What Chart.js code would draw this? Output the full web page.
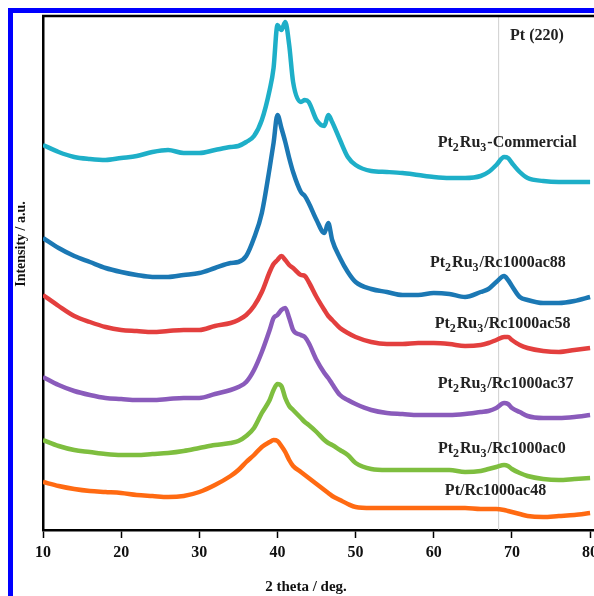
<!DOCTYPE html>
<html>
<head>
<meta charset="utf-8">
<script src="https://cdn.jsdelivr.net/npm/chart.js@4.4.0/dist/chart.umd.min.js"></script>
<style>
  html, body { margin: 0; padding: 0; background: #fff; overflow: hidden; }
  #wrap { width: 620px; height: 596px; }
</style>
</head>
<body>
<div id="wrap"><canvas id="chart" width="620" height="596"></canvas></div>
<script>
const twoTheta = [10,12,14,16,18,20,22,24,26,28,30,32,34,35,36,37,38,39,39.5,40,40.5,41,41.5,42,
  43,43.5,44,45,46,46.5,47,48,49,50,52,54,56,58,60,62,64,66,67,68,69,69.5,70,71,72,74,76,78,80];

// Intensity (a.u., stacked with offsets as in the figure)
const commercial = [385,378,373,371,370,372,374,378,380,377,377,380,383, 384,388,394,410,440,
  462,505,500,508,485,448, 428,430,428,410,404,415,408,390,373,365,
  359,358,357,355,353,352,352,354, 358,365,373,372,367,358,352, 349,348,348,348];
const ac88 = [292,282,274,268,262,258,255,253,253,255,257,262,267, 268,274,292,317,362,
  387,415,402,388,372,358, 338,334,327,310,297,307,290,272,258,248,
  241,238,235,235,237,236,233,238, 241,248,254,250,244,233,230, 227,227,229,233];
const ac58 = [235,224,214,208,203,200,199,198,199,200,200,204,207, 210,215,224,238,258,
  266,270,274,270,265,262, 255,254,248,233,220,214,210,202,197,193,
  188,186,186,187,187,186,184,185, 187,190,193,193,190,185,182, 179,178,180,182];
const ac37 = [153,145,139,135,132,131,130,130,131,132,132,136,140, 143,148,160,178,200,
  212,215,220,222,212,200, 195,193,187,170,157,152,146,135,130,126,
  120,117,116,115,115,115,116,118, 119,122,127,126,122,118,114, 112,112,113,115];
const ac0 = [90,84,80,78,76,75,75,76,77,79,82,85,87, 89,94,102,117,130,
  140,146,144,132,124,120, 112,108,105,98,90,87,85,80,75,67,
  61,60,60,60,60,60,58,59, 61,63,65,64,61,57,54, 51,50,51,52];
const ac48 = [48,44,41,39,38,37,35,34,33,34,38,45,54, 60,68,75,83,88,
  90,89,84,78,70,64, 58,55,52,46,40,37,34,30,26,23,
  22,22,22,22,22,22,22,21, 21,21,20,19,18,16,14, 13,14,15,17];

const seriesValues = [commercial, ac88, ac58, ac37, ac0, ac48];
const seriesColors = ['#1eafc8', '#1b78b4', '#e33f3e', '#8a5bbb', '#7ebe3f', '#ff6a12'];

// Pt (220) reference line
const refLineX = 68.3;

// labels: "_" marks the next character as subscript
const labelTexts = ['Pt (220)', 'Pt_2Ru_3-Commercial', 'Pt_2Ru_3/Rc1000ac88', 'Pt_2Ru_3/Rc1000ac58',
  'Pt_2Ru_3/Rc1000ac37', 'Pt_2Ru_3/Rc1000ac0', 'Pt/Rc1000ac48'];
const labelX = [73.2, 69.4, 68.2, 68.8, 69.2, 68.7, 67.9];
const labelY = [495, 388, 268, 207, 147, 82, 40];

const xTicks = [10, 20, 30, 40, 50, 60, 70, 80];

const serif = '"Liberation Serif", "Times New Roman", serif';

function drawRich(ctx, text, cx, cy) {
  const parts = [];
  for (let i = 0; i < text.length; i++) {
    if (text[i] === '_') {
      parts.push({ t: text[i + 1], sub: true });
      i++;
    } else if (parts.length && !parts[parts.length - 1].sub) {
      parts[parts.length - 1].t += text[i];
    } else {
      parts.push({ t: text[i], sub: false });
    }
  }
  let w = 0;
  parts.forEach(p => {
    ctx.font = 'bold ' + (p.sub ? 12 : 16) + 'px ' + serif;
    p.w = ctx.measureText(p.t).width + (p.sub ? 1 : 0);
    w += p.w;
  });
  let x = cx - w / 2;
  parts.forEach(p => {
    ctx.font = 'bold ' + (p.sub ? 12 : 16) + 'px ' + serif;
    ctx.fillText(p.t, x, cy + 5 + (p.sub ? 4 : 0));
    x += p.w;
  });
}

const decorPlugin = {
  id: 'decor',
  afterDraw(chart) {
    const ctx = chart.ctx;
    const area = chart.chartArea;
    const xs = chart.scales.x;
    const ys = chart.scales.y;
    ctx.save();
    // top frame
    ctx.strokeStyle = '#000';
    ctx.lineWidth = 2.5;
    ctx.beginPath();
    ctx.moveTo(area.left - 1, area.top);
    ctx.lineTo(chart.width, area.top);
    ctx.stroke();
    // blue border of the figure
    ctx.fillStyle = '#0000ff';
    ctx.fillRect(8, 8, 5, chart.height);
    ctx.fillRect(8, 8, chart.width, 5);
    // series labels
    ctx.fillStyle = '#222';
    ctx.textAlign = 'left';
    ctx.textBaseline = 'alphabetic';
    labelTexts.forEach((t, i) => {
      drawRich(ctx, t, xs.getPixelForValue(labelX[i]), ys.getPixelForValue(labelY[i]));
    });
    // axis titles
    ctx.fillStyle = '#111';
    ctx.textAlign = 'center';
    ctx.textBaseline = 'middle';
    ctx.font = 'bold 15px ' + serif;
    ctx.fillText('2 theta / deg.', 306, 587);
    ctx.translate(21.5, 244);
    ctx.rotate(-Math.PI / 2);
    ctx.font = 'bold 14px ' + serif;
    ctx.fillText('Intensity / a.u.', 0, 0);
    ctx.restore();
  }
};

const datasets = seriesValues.map((vals, i) => ({
  data: twoTheta.map((x, j) => ({ x: x, y: vals[j] })),
  borderColor: seriesColors[i],
  borderWidth: 4.5,
  cubicInterpolationMode: 'monotone',
  pointRadius: 0,
  order: 1
}));
datasets.push({
  data: [{ x: refLineX, y: 0 }, { x: refLineX, y: 514 }],
  borderColor: '#cfcfcf',
  borderWidth: 1,
  pointRadius: 0,
  order: 10
});

const ctx = document.getElementById('chart').getContext('2d');
const chart = new Chart(ctx, {
  type: 'line',
  data: { datasets: datasets },
  options: {
    responsive: false,
    animation: false,
    devicePixelRatio: 1,
    layout: { padding: { left: 13, top: 16, right: 26, bottom: 0 } },
    plugins: { legend: { display: false }, tooltip: { enabled: false } },
    scales: {
      x: {
        type: 'linear',
        min: 10,
        max: 80.5,
        afterBuildTicks: s => { s.ticks = xTicks.map(v => ({ value: v })); },
        afterFit: s => { s.height = 66; },
        ticks: {
          color: '#111',
          padding: 5,
          maxRotation: 0,
          font: { family: serif, size: 16, weight: 'bold' }
        },
        grid: { drawOnChartArea: false, tickLength: 8, tickColor: '#000', tickWidth: 1.5 },
        border: { color: '#000', width: 2.5 }
      },
      y: {
        min: 0,
        max: 514,
        afterFit: s => { s.width = 30; },
        ticks: { display: false },
        grid: { display: false },
        border: { color: '#000', width: 2.5 }
      }
    }
  },
  plugins: [decorPlugin]
});
</script>
</body>
</html>
